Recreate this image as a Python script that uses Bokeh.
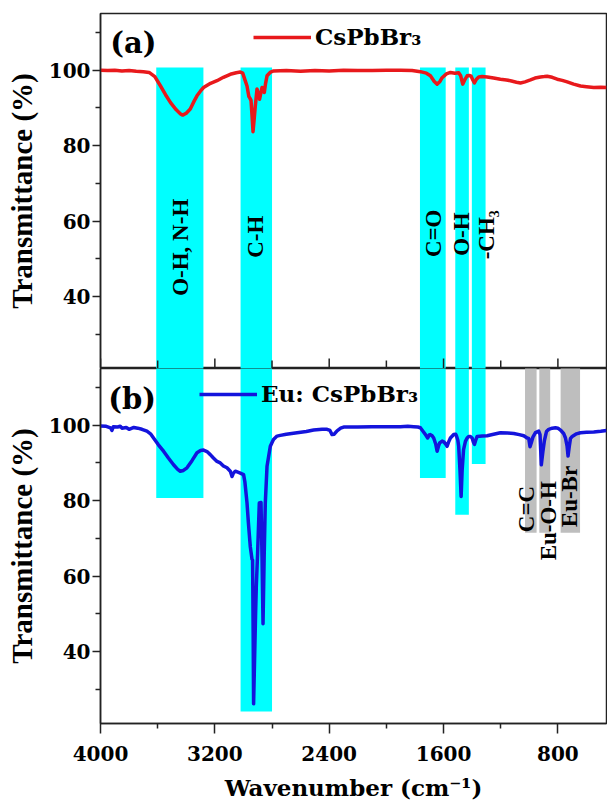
import numpy as np
from bokeh.plotting import figure
from bokeh.models import Range1d, FixedTicker, Legend, LegendItem
from bokeh.layouts import column
from bokeh.embed import file_html
from bokeh.resources import INLINE
from bokeh.core.properties import value

# ---------------- data ----------------
wn_a = [4000, 3950, 3900, 3850, 3800, 3750, 3700, 3660, 3620, 3580, 3545, 3510, 3470, 3440, 3425,
        3400, 3372, 3345, 3325, 3300, 3279, 3230, 3185, 3140, 3092, 3050, 3022, 3005, 2990, 2975,
        2962, 2955, 2947, 2940, 2933, 2925, 2917, 2905, 2895, 2887, 2878, 2870, 2860, 2854, 2845,
        2835, 2810, 2789, 2700, 2600, 2500, 2400, 2300, 2200, 2100, 2000, 1900, 1820, 1762, 1720,
        1692, 1665, 1645, 1625, 1610, 1580, 1552, 1520, 1494, 1480, 1466, 1452, 1435, 1420, 1407,
        1395, 1384, 1370, 1354, 1330, 1295, 1250, 1202, 1160, 1132, 1090, 1062, 1030, 992, 960,
        922, 895, 875, 840, 805, 770, 735, 690, 642, 600, 549, 500, 460]
t_a = [100.0, 99.9, 100.0, 99.8, 99.9, 99.7, 99.6, 99.4, 98.3, 95.8, 93.5, 91.4, 89.5, 88.4, 88.1,
       88.6, 89.7, 91.8, 93.2, 94.5, 95.4, 96.5, 97.2, 98.1, 98.9, 99.3, 99.5, 99.2, 97.5, 95.8,
       93.0, 92.6, 92.0, 88.0, 83.7, 87.0, 90.5, 95.0, 93.5, 92.3, 94.0, 95.4, 94.6, 94.1, 96.5,
       98.5, 99.5, 99.8, 99.9, 99.7, 99.9, 99.8, 100.0, 99.9, 99.9, 100.0, 100.0, 99.9, 99.6, 99.2,
       98.5, 97.0, 96.3, 97.0, 98.0, 99.0, 99.4, 99.2, 99.3, 98.5, 96.3, 97.4, 98.5, 98.6, 98.4,
       97.4, 96.6, 97.6, 98.2, 98.3, 98.2, 97.9, 97.6, 97.4, 97.2, 96.8, 96.6, 96.9, 97.4, 97.9,
       98.2, 98.3, 98.4, 98.1, 97.6, 97.3, 96.9, 96.3, 95.8, 95.6, 95.4, 95.5, 95.4]

wn_b = [4000, 3960, 3930, 3920, 3910, 3880, 3862, 3850, 3820, 3800, 3767, 3740, 3710, 3675, 3650,
        3629, 3595, 3559, 3525, 3489, 3460, 3442, 3420, 3395, 3360, 3325, 3300, 3279, 3255, 3232,
        3210, 3185, 3162, 3140, 3115, 3092, 3085, 3080, 3070, 3057, 3030, 2999, 2990, 2975, 2965,
        2952, 2940, 2936, 2932, 2929, 2922, 2915, 2910, 2901, 2889, 2877, 2870, 2863, 2855, 2847,
        2835, 2812, 2790, 2765, 2742, 2700, 2625, 2560, 2509, 2450, 2415, 2395, 2380, 2365, 2345,
        2320, 2299, 2200, 2100, 2042, 1950, 1902, 1850, 1809, 1780, 1762, 1740, 1727, 1711, 1700,
        1692, 1680, 1669, 1655, 1645, 1635, 1627, 1610, 1599, 1585, 1575, 1565, 1552, 1529, 1515,
        1510, 1500, 1494, 1485, 1477, 1470, 1460, 1447, 1435, 1424, 1412, 1400, 1392, 1384, 1375,
        1365, 1330, 1295, 1250, 1202, 1150, 1109, 1070, 1039, 1015, 1004, 995, 985, 975, 957,
        934, 925, 916, 905, 894, 880, 864, 840, 817, 800, 782, 760, 747, 736, 729,
        720, 712, 700, 670, 642, 600, 549, 500, 460]
t_b = [99.8, 99.7, 99.3, 98.6, 99.6, 99.5, 99.7, 99.2, 99.4, 98.9, 99.4, 99.2, 98.9, 98.4, 97.7,
       96.6, 94.8, 93.1, 91.3, 89.5, 88.3, 87.8, 88.0, 88.7, 90.6, 92.7, 93.3, 93.4, 93.0, 92.2,
       91.3, 90.4, 90.0, 89.2, 88.7, 87.8, 87.0, 86.4, 87.3, 87.8, 87.4, 86.9, 85.0, 79.4, 74.0,
       67.8, 64.5, 64.3, 45.0, 26.2, 38.0, 50.0, 57.2, 66.0, 79.4, 79.5, 65.0, 47.4, 65.0, 79.4,
       89.1, 94.4, 96.2, 97.1, 97.3, 97.6, 98.0, 98.3, 98.7, 98.9, 98.9, 98.6, 97.5, 97.6, 98.5,
       99.2, 99.5, 99.5, 99.6, 99.6, 99.6, 99.6, 99.7, 99.6, 99.5, 99.3, 98.2, 97.5, 96.6, 97.4,
       97.5, 97.2, 96.6, 95.0, 93.1, 94.5, 95.3, 95.8, 95.6, 95.0, 94.4, 95.5, 96.6, 97.5, 97.6,
       97.2, 96.0, 94.4, 88.0, 81.1, 88.0, 93.5, 95.7, 96.6, 97.0, 97.0, 96.6, 95.6, 94.9, 96.0,
       97.0, 97.1, 97.2, 97.6, 98.0, 97.9, 97.8, 97.5, 97.2, 96.6, 96.5, 94.3, 95.5, 96.8, 98.0,
       98.4, 97.5, 89.5, 93.0, 96.0, 98.3, 98.9, 99.2, 99.3, 99.2, 98.7, 97.8, 96.6, 94.5, 91.8,
       94.5, 96.5, 97.0, 97.7, 98.0, 98.1, 98.2, 98.4, 98.6]

# highlighted bands (wavenumber limits)
cyan_left = [3610, 3020, 1765, 1518, 1402]
cyan_right = [3280, 2800, 1585, 1423, 1306]
cyan_top_a = [100.7, 100.7, 100.7, 100.7, 100.7]
cyan_bottom_b = [80.7, 24.2, 86.0, 76.3, 89.7]

gray_left = [1030, 930, 781]
gray_right = [949, 854, 645]
gray_bottom_b = [71.5, 71.5, 71.5]

labels_a = ["O-H, N-H", "C-H", "C=O", "O-H", "-CH\u2083"]
labels_a_x = [3442, 2914, 1667, 1477, 1303]
labels_a_y = [53.1, 55.9, 56.8, 56.6, 56.4]

labels_b = ["C=C", "Eu-O-H", "Eu-Br"]
labels_b_x = [1022, 867, 719]
labels_b_y = [77.8, 74.7, 81.1]

x_major = [4000, 3200, 2400, 1600, 800]
x_minor = [3600, 2800, 2000, 1200, 400]
y_major = [40, 60, 80, 100]
y_minor = [30, 50, 70, 90, 110]

# ---------------- style ----------------
RED = "#E8191C"
BLUE = "#1414DC"
CYAN = "#00FFFF"
GRAY = "#BEBEBE"
FRAME = "#222222"
HFONT = "DejaVu Serif"
VFONT = "Liberation Serif"

Y0, Y1 = 21, 115
x_range = Range1d(4000, 460)


def style(p, show_x):
    p.xgrid.visible = False
    p.ygrid.visible = False
    p.outline_line_color = FRAME
    p.outline_line_width = 1.5
    p.background_fill_color = "white"
    p.border_fill_color = "white"

    ya = p.yaxis[0]
    ya.ticker = FixedTicker(ticks=y_major, minor_ticks=y_minor)
    ya.axis_label = "Transmittance (%)"
    ya.axis_label_text_font = VFONT
    ya.axis_label_text_font_style = "bold"
    ya.axis_label_text_font_size = "29px"
    ya.axis_label_text_color = "black"
    ya.axis_label_standoff = 8
    ya.major_label_text_font = HFONT
    ya.major_label_text_font_style = "bold"
    ya.major_label_text_font_size = "20px"
    ya.major_label_text_color = "black"
    ya.major_label_standoff = 2
    ya.major_tick_out = 8
    ya.major_tick_in = 0
    ya.minor_tick_out = 5
    ya.minor_tick_in = 0
    ya.axis_line_color = FRAME
    ya.axis_line_width = 1.5
    ya.major_tick_line_width = 1.5
    ya.minor_tick_line_width = 1.5
    ya.major_tick_line_color = FRAME
    ya.minor_tick_line_color = FRAME

    xa = p.xaxis[0]
    if show_x:
        xa.ticker = FixedTicker(ticks=x_major, minor_ticks=x_minor)
        xa.axis_line_color = FRAME
        xa.axis_line_width = 1.5
        xa.major_tick_line_width = 1.5
        xa.minor_tick_line_width = 1.5
        xa.major_tick_line_color = FRAME
        xa.minor_tick_line_color = FRAME
        xa.axis_label = "Wavenumber (cm\u207b\u00b9)"
        xa.axis_label_text_font = HFONT
        xa.axis_label_text_font_style = "bold"
        xa.axis_label_text_font_size = "23px"
        xa.axis_label_text_color = "black"
        xa.axis_label_standoff = 10
        xa.major_label_text_font = HFONT
        xa.major_label_text_font_style = "bold"
        xa.major_label_text_font_size = "20px"
        xa.major_label_text_color = "black"
        xa.major_label_standoff = 12
        xa.major_tick_out = 10
        xa.major_tick_in = 0
        xa.minor_tick_out = 5
        xa.minor_tick_in = 0
    else:
        xa.visible = False


def add_legend(p, renderer, text, loc):
    leg = Legend(items=[LegendItem(label=value(text), renderers=[renderer])],
                 location=loc, orientation="vertical")
    leg.label_text_font = HFONT
    leg.label_text_font_style = "bold"
    leg.label_text_font_size = "23px"
    leg.label_text_color = "black"
    leg.glyph_width = 58
    leg.glyph_height = 20
    leg.label_standoff = 4
    leg.padding = 0
    leg.margin = 0
    leg.spacing = 0
    leg.border_line_alpha = 0
    leg.background_fill_alpha = 0
    p.add_layout(leg)


# ---------------- panel (a) ----------------
pa = figure(width=607, height=368, x_range=x_range, y_range=Range1d(Y0, Y1),
            output_backend="svg", toolbar_location=None,
            min_border_left=100, min_border_right=1, min_border_top=13, min_border_bottom=0)
style(pa, False)
pa.quad(left=cyan_left, right=cyan_right, top=cyan_top_a,
        bottom=[0] * len(cyan_left), fill_color=CYAN, line_color=None)
# inward ticks on the shared boundary (drawn at the x tick values)
px_per_unit = 355.0 / (Y1 - Y0)
pa.segment(x0=x_major, x1=x_major, y0=[Y0] * len(x_major),
           y1=[Y0 + 10 / px_per_unit] * len(x_major), line_color=FRAME, line_width=1.5)
pa.segment(x0=x_minor, x1=x_minor, y0=[Y0] * len(x_minor),
           y1=[Y0 + 8 / px_per_unit] * len(x_minor), line_color=FRAME, line_width=1.5)
ra = pa.line(wn_a, t_a, line_color=RED, line_width=3.5, line_join="round")
pa.text(x=labels_a_x, y=labels_a_y, text=labels_a, angle=np.pi / 2,
        text_align="center", text_baseline="middle",
        text_font=value(VFONT), text_font_style="bold", text_font_size="23px",
        text_color="black")
pa.text(x=[3932], y=[107.1], text=["(a)"], text_align="left", text_baseline="middle",
        text_font=value(HFONT), text_font_style="bold", text_font_size="29px",
        text_color="black")
add_legend(pa, ra, "CsPbBr\u2083", (153, 318))

# ---------------- panel (b) ----------------
pb = figure(width=607, height=440, x_range=x_range, y_range=Range1d(Y0, Y1),
            output_backend="svg", toolbar_location=None,
            min_border_left=100, min_border_right=1, min_border_top=0, min_border_bottom=85)
style(pb, True)
pb.quad(left=cyan_left, right=cyan_right, top=[130] * len(cyan_left),
        bottom=cyan_bottom_b, fill_color=CYAN, line_color=None)
pb.quad(left=gray_left, right=gray_right, top=[130] * len(gray_left),
        bottom=gray_bottom_b, fill_color=GRAY, line_color=None)
rb = pb.line(wn_b, t_b, line_color=BLUE, line_width=3.5, line_join="round")
pb.text(x=labels_b_x, y=labels_b_y, text=labels_b, angle=np.pi / 2,
        text_align="center", text_baseline="middle",
        text_font=value(VFONT), text_font_style="bold", text_font_size="23px",
        text_color="black")
pb.text(x=[3946], y=[106.8], text=["(b)"], text_align="left", text_baseline="middle",
        text_font=value(HFONT), text_font_style="bold", text_font_size="29px",
        text_color="black")
add_legend(pb, rb, "Eu: CsPbBr\u2083", (99, 316))

layout = column(pa, pb, spacing=0)
open("out.html", "w").write(file_html(layout, INLINE))
